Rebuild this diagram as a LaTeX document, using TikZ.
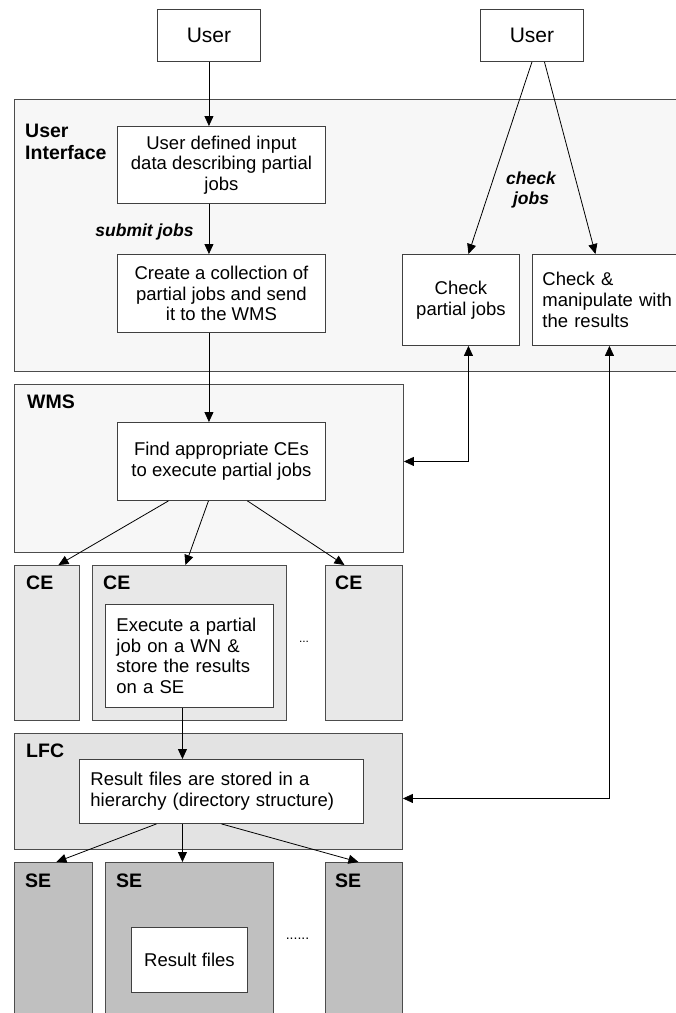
\documentclass[tikz,border=0pt]{standalone}
\usepackage{fontspec}
\setmainfont{Liberation Sans}
\usetikzlibrary{arrows.meta}

\definecolor{uigray}{HTML}{F7F7F7}
\definecolor{cegray}{HTML}{E8E8E8}
\definecolor{lfcgray}{HTML}{E3E3E3}
\definecolor{segray}{HTML}{C0C0C0}

\begin{document}
\begin{tikzpicture}[x=1pt, y=-1pt,
  >={Triangle[length=10pt,width=9pt]},
  box/.style={draw=black!75, line width=0.9pt, fill=white, anchor=north west,
    inner sep=0pt, align=center, font=\fontsize{18.5}{20.7}\selectfont},
  leftbox/.style={box, align=left, inner xsep=11pt},
  panel/.style={draw=black!70, line width=0.9pt, anchor=north west, inner sep=0pt},
  paneltitle/.style={anchor=west, inner sep=0pt, align=left,
    font=\fontsize{19.5}{22}\selectfont\bfseries},
  tag/.style={inner sep=0pt, align=center, font=\fontsize{17.5}{20}\selectfont\bfseries\itshape},
  link/.style={->, line width=0.8pt}]

\clip (0,0) rectangle (676,1013);

%% Panels %%

\node[panel, fill=uigray, minimum width=690, minimum height=272] (ui) at (14,99) {};
\node[panel, fill=uigray, minimum width=389, minimum height=168] (wms) at (14,384) {};

\node[panel, fill=cegray, minimum width=65, minimum height=155] (ce1) at (14,565) {};
\node[panel, fill=cegray, minimum width=194, minimum height=155] (ce2) at (92,565) {};
\node[panel, fill=cegray, minimum width=77, minimum height=155] (ce3) at (325,565) {};

\node[panel, fill=lfcgray, minimum width=388, minimum height=116] (lfc) at (14,733) {};

\node[panel, fill=segray, minimum width=78, minimum height=168] (se1) at (14,862) {};
\node[panel, fill=segray, minimum width=168, minimum height=168] (se2) at (105,862) {};
\node[panel, fill=segray, minimum width=77, minimum height=168] (se3) at (325,862) {};


\node[paneltitle] (uititle) at ([shift={(11,43)}]ui.north west) {User\\Interface};
\node[paneltitle] (wmstitle) at ([shift={(13,18)}]wms.north west) {WMS};
\node[paneltitle] (ce1title) at ([shift={(12,18)}]ce1.north west) {CE};
\node[paneltitle] (ce2title) at ([shift={(11,18)}]ce2.north west) {CE};
\node[paneltitle] (ce3title) at ([shift={(10,18)}]ce3.north west) {CE};
\node[paneltitle] (lfctitle) at ([shift={(12,18)}]lfc.north west) {LFC};
\node[paneltitle] (se1title) at ([shift={(11,19)}]se1.north west) {SE};
\node[paneltitle] (se2title) at ([shift={(11,19)}]se2.north west) {SE};
\node[paneltitle] (se3title) at ([shift={(10,19)}]se3.north west) {SE};


%% Boxes %%

\node[box, minimum width=103, minimum height=52, font=\fontsize{21}{24}\selectfont] (user1) at (157,9) {User};
\node[box, minimum width=103, minimum height=52, font=\fontsize{21}{24}\selectfont] (user2) at (480,9) {User};

\node[box, minimum width=208, minimum height=77] (input) at (117,126)
  {User defined input\\data describing partial\\jobs};
\node[box, minimum width=208, minimum height=78] (create) at (117,254)
  {Create a collection of\\partial jobs and send\\it to the WMS};

\node[box, minimum width=117, minimum height=91] (chk) at (402,254) {Check\\partial jobs};
\node[leftbox, inner xsep=10pt, text width=140, minimum height=91] (manip) at (532,254)
  {Check \&\\manipulate with\\the results};

\node[box, minimum width=208, minimum height=78] (find) at (117,422)
  {Find appropriate CEs\\to execute partial jobs};

\node[leftbox, text width=146, minimum height=103] (exec) at (105,604)
  {Execute a partial\\job on a WN \&\\store the results\\on a SE};

\node[leftbox, text width=262, minimum height=64] (stored) at (79,759)
  {Result files are stored in a\\hierarchy (directory structure)};

\node[box, minimum width=116, minimum height=65] (files) at (131,927) {Result files};


\node[inner sep=0pt, font=\fontsize{12}{14}\selectfont] (cedots) at (304,642) {...};
\node[inner sep=0pt, font=\fontsize{14}{16}\selectfont] (sedots) at (297.5,939) {......};


%% Arrows %%

\draw[link] (user1.south) -- (user1.south |- input.north);
\draw[link] (user1.south |- input.south) -- (user1.south |- create.north);
\node[tag] (submit) at (144.5,232) {submit jobs};
\draw[link] (user1.south |- create.south) -- (user1.south |- find.north);

\draw[link] (user2.south) -- ([xshift=7.5pt]chk.north);
\draw[link] ([xshift=12.5pt]user2.south) -- ([xshift=-17pt]manip.north);
\node[tag] (check) at (531,190) {check\\jobs};

\draw[<->, line width=0.8pt] ([xshift=7.5pt]chk.south) |- ([yshift=7pt]wms.east);
\draw[<->, line width=0.8pt] ([xshift=-3pt]manip.south) |- ([yshift=-7pt]lfc.east);

\draw[link] ([xshift=-53pt]find.south) -- ([xshift=11.5pt]ce1.north);
\draw[link] ([xshift=-13pt]find.south) -- ([xshift=-4pt]ce2.north);
\draw[link] ([xshift=26pt]find.south) -- ([xshift=-19.5pt]ce3.north);

\draw[link] ([xshift=-7pt]exec.south) -- ([xshift=-7pt]exec.south |- stored.north);

\draw[link] ([xshift=-65pt]stored.south) -- ([xshift=3pt]se1.north);
\draw[link] ([xshift=-39pt]stored.south) -- ([xshift=-7pt]se2.north);
\draw[link] (stored.south) -- ([xshift=-5.5pt]se3.north);

\end{tikzpicture}
\end{document}
